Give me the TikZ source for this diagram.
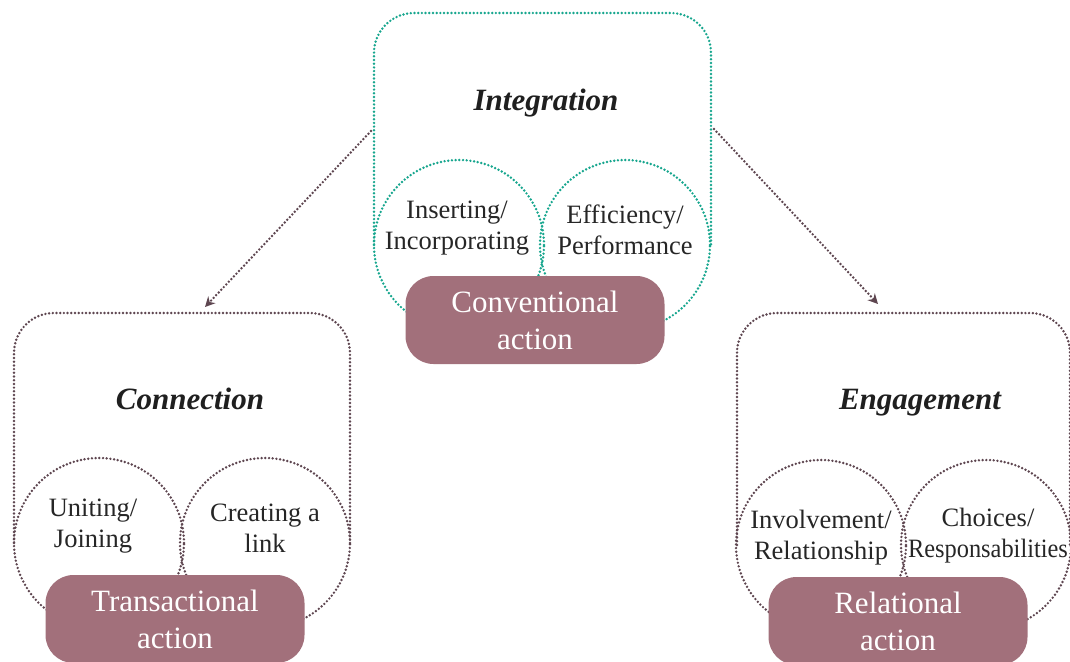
\documentclass[tikz,border=0pt]{standalone}
\usepackage{fontspec}
\setmainfont{Liberation Serif}
\usetikzlibrary{arrows.meta}
\definecolor{teal}{HTML}{17A68E}
\definecolor{brownline}{HTML}{5E4650}
\definecolor{mauve}{HTML}{A2707B}
\tikzset{
  dotline/.style={line width=2.7pt, dash pattern=on 0pt off 3.7pt, line cap=round},
  frameline/.style={dotline, rounded corners=40pt},
  ring/.style={circle, dotline, minimum size=170pt, inner sep=0pt},
  actionbox/.style={rectangle, rounded corners=28pt, fill=mauve, text=white, minimum width=259pt, minimum height=88pt, align=center, font=\fontsize{31}{37}\selectfont, inner sep=0pt},
  ringlabel/.style={align=center, font=\fontsize{26.5}{31}\selectfont, text=black!85, inner sep=0pt},
  title/.style={font=\fontsize{31}{36}\selectfont\bfseries\itshape, text=black!88, inner sep=0pt},
  flow/.style={dotline, draw=brownline, -{Stealth[length=10pt,width=10pt]}}
}
\begin{document}
\begin{tikzpicture}[x=1pt,y=-1pt]
\useasboundingbox (0,0) rectangle (1070,661);
% ---------- Integration (top) ----------
\draw[frameline, draw=teal] (374,245) -- (374,13) -- (711,13) -- (711,245);
\node[ring, draw=teal] (c1) at (459,245) {};
\node[ring, draw=teal] (c2) at (625,245) {};
\node[title] (tInt) at (546,103) {Integration};
\node[ringlabel] (l1) at (457,228) {Inserting/\\Incorporating};
\node[ringlabel] (l2) at (625,230) {Efficiency/\\Performance};
\node[actionbox] (a1) at (535,320) {Conventional\\action};
% ---------- Connection (left) ----------
\draw[frameline, draw=brownline] (14,543) -- (14,313) -- (350,313) -- (350,543);
\node[ring, draw=brownline] (c3) at (99,543) {};
\node[ring, draw=brownline] (c4) at (265,543) {};
\node[title] (tCon) at (190,399) {Connection};
\node[ringlabel] (l3) at (93,526) {Uniting/\\Joining};
\node[ringlabel] (l4) at (265,528) {Creating a\\link};
\node[actionbox] (a2) at (175,619) {Transactional\\action};
% ---------- Engagement (right) ----------
\draw[frameline, draw=brownline] (737,545) -- (737,313) -- (1070,313) -- (1070,545);
\node[ring, draw=brownline] (c5) at (821,545) {};
\node[ring, draw=brownline] (c6) at (986,545) {};
\node[title] (tEng) at (920,403) {Engagement};
\node[ringlabel] (l5) at (821,538) {Involvement/\\Relationship};
\node[ringlabel] (l6) at (988,536) {Choices/\\\scalebox{0.92}[1]{Responsabilities}};
\node[actionbox] (a3) at (898,621) {Relational\\action};
% ---------- arrows ----------
\coordinate (s1) at (371,131);
\coordinate (e1) at (205,307);
\coordinate (s2) at (714,129);
\coordinate (e2) at (878,304);
\draw[flow] (s1) -- (e1);
\draw[flow] (s2) -- (e2);
\end{tikzpicture}
\end{document}
